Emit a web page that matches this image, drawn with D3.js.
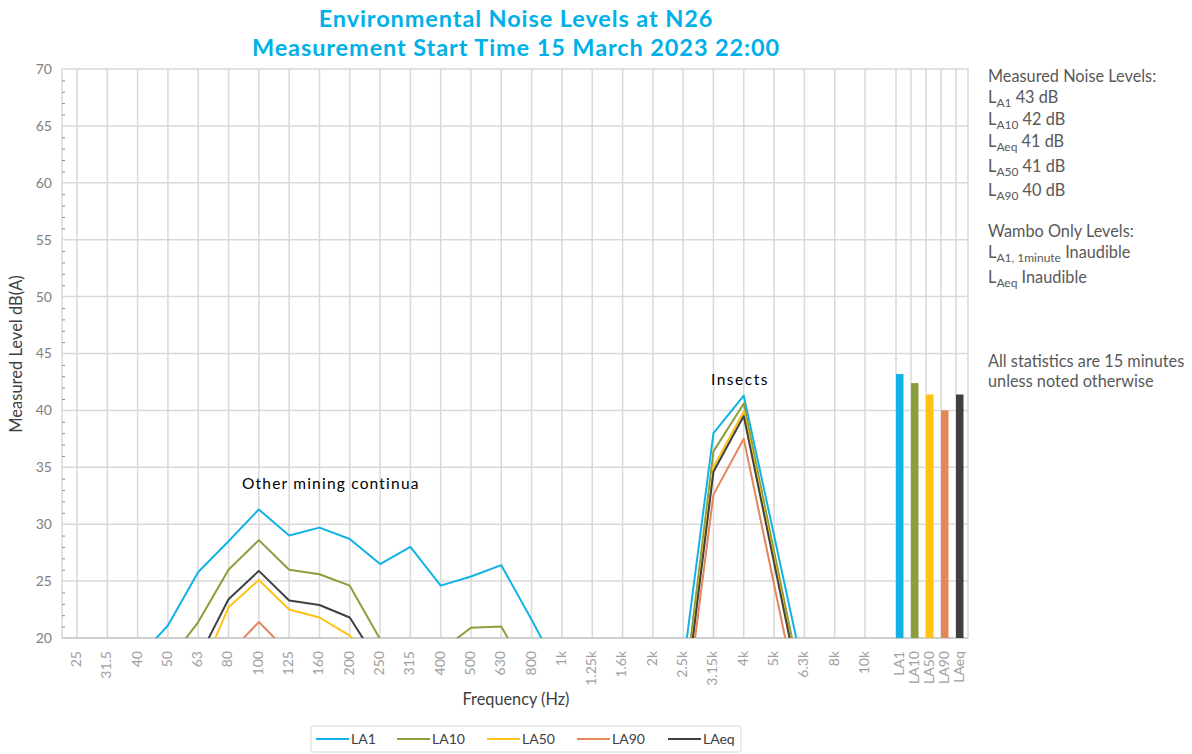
<!DOCTYPE html>
<html>
<head>
<meta charset="utf-8">
<script src="https://cdn.jsdelivr.net/npm/d3@7"></script>
<style>
  body { margin: 0; background: #fff; }
  text { font-family: Lato, "Open Sans", sans-serif; }
</style>
</head>
<body>
<div id="chart"></div>
<script>
// frequency bands (Hz) along the x axis
var freqs = ["25", "31.5", "40", "50", "63", "80", "100", "125", "160", "200", "250", "315", "400",
  "500", "630", "800", "1k", "1.25k", "1.6k", "2k", "2.5k", "3.15k", "4k", "5k", "6.3k", "8k", "10k"];

// third-octave levels per statistic, dB(A) (values under 20 are off the chart)
var la1 = [15.0, 16.0, 18.2, 21.1, 25.8, 28.5, 31.3, 29.0, 29.7, 28.7, 26.5, 28.0, 24.6,
  25.4, 26.4, 21.6, 16.6, 15.5, 15.0, 15.5, 17.5, 38.0, 41.3, 29.0, 16.7, 14.0, 13.0];
var la10 = [14.0, 15.0, 16.5, 17.9, 21.4, 26.0, 28.6, 26.0, 25.6, 24.6, 19.9, 17.5, 18.9,
  20.9, 21.0, 16.3, 14.5, 13.5, 13.0, 13.5, 14.4, 36.4, 40.6, 27.6, 14.7, 12.5, 11.5];
var la50 = [12.0, 13.0, 14.0, 15.0, 16.5, 22.7, 25.1, 22.5, 21.8, 20.2, 17.5, 16.0, 15.5,
  16.5, 16.5, 14.0, 12.5, 12.0, 11.5, 12.0, 13.3, 35.0, 39.9, 26.9, 13.8, 11.0, 10.0];
var la90 = [11.0, 12.0, 13.0, 14.0, 15.5, 18.6, 21.4, 18.7, 17.5, 16.5, 15.0, 14.5, 14.0,
  14.5, 14.5, 13.0, 12.0, 11.5, 11.0, 11.5, 11.8, 32.6, 37.5, 24.7, 11.9, 10.0, 9.0];
var laeq = [13.0, 14.0, 15.0, 16.5, 18.2, 23.4, 25.9, 23.3, 22.9, 21.8, 17.6, 17.0, 16.5,
  17.5, 17.5, 15.0, 13.5, 13.0, 12.5, 13.0, 13.1, 34.6, 39.5, 26.6, 13.7, 11.5, 10.5];

// overall statistics shown as bars at the right end of the axis
var statNames = ["LA1", "LA10", "LA50", "LA90", "LAeq"];
var statValues = [43.2, 42.4, 41.4, 40.0, 41.4];

var yTicks = [20, 25, 30, 35, 40, 45, 50, 55, 60, 65, 70];

var colors = {
  LA1: "#12b2e6", LA10: "#8a9e3c", LA50: "#ffc114", LA90: "#e3865a", LAeq: "#404040"
};

var series = [
  { name: "LA1", values: la1 },
  { name: "LA10", values: la10 },
  { name: "LA50", values: la50 },
  { name: "LA90", values: la90 },
  { name: "LAeq", values: laeq }
];

var svgWidth = 1192, svgHeight = 754;
var plot = { left: 62, top: 69, right: 968, bottom: 638 };

var svg = d3.select("#chart").append("svg")
  .attr("width", svgWidth)
  .attr("height", svgHeight);

var x = d3.scalePoint().domain(freqs).range([77, 865]);
var xs = d3.scalePoint().domain(statNames).range([896, 956]);
var y = d3.scaleLinear().domain([20, 70]).range([plot.bottom, plot.top]);

var grid = "#d9d9d9";

// gridlines
var gridG = svg.append("g");
gridG.selectAll("line.h")
  .data(yTicks.slice(1, -1))
  .enter().append("line")
  .attr("x1", plot.left).attr("x2", plot.right)
  .attr("y1", d => y(d)).attr("y2", d => y(d))
  .attr("stroke", grid).attr("stroke-width", 1.5);

gridG.selectAll("line.vf")
  .data(freqs)
  .enter().append("line")
  .attr("x1", d => x(d)).attr("x2", d => x(d))
  .attr("y1", plot.top).attr("y2", plot.bottom)
  .attr("stroke", grid).attr("stroke-width", 1.5);

gridG.selectAll("line.vs")
  .data(statNames)
  .enter().append("line")
  .attr("x1", d => xs(d)).attr("x2", d => xs(d))
  .attr("y1", plot.top).attr("y2", plot.bottom)
  .attr("stroke", grid).attr("stroke-width", 1.5);

// plot frame
svg.append("rect")
  .attr("x", plot.left).attr("y", plot.top)
  .attr("width", plot.right - plot.left).attr("height", plot.bottom - plot.top)
  .attr("fill", "none").attr("stroke", grid).attr("stroke-width", 1.5);

// minor ticks on the y axis (inside)
var minor = d3.range(21, 70).filter(d => d % 5 !== 0);
svg.append("g")
  .attr("transform", "translate(" + plot.left + ",0)")
  .call(d3.axisLeft(y).tickValues(minor).tickSize(-3).tickFormat(""))
  .call(g => g.select(".domain").remove())
  .selectAll("line").attr("stroke", "#8c8c8c");

// y tick labels
svg.append("g")
  .selectAll("text")
  .data(yTicks)
  .enter().append("text")
  .attr("x", 52)
  .attr("y", d => y(d))
  .attr("dy", "0.35em")
  .attr("text-anchor", "end")
  .attr("font-size", 14)
  .attr("fill", "#808080")
  .text(d => d);

// x tick labels (rotated)
var xlab = svg.append("g");
xlab.selectAll("text.f")
  .data(freqs)
  .enter().append("text")
  .attr("transform", d => "translate(" + (x(d) - 1) + ",651) rotate(-90)")
  .attr("dy", "0.35em")
  .attr("text-anchor", "end")
  .attr("font-size", 14)
  .attr("fill", "#a0a0a0")
  .text(d => d);

xlab.selectAll("text.s")
  .data(statNames)
  .enter().append("text")
  .attr("transform", d => "translate(" + (xs(d) + 3) + ",651) rotate(-90)")
  .attr("dy", "0.35em")
  .attr("text-anchor", "end")
  .attr("font-size", 14)
  .attr("fill", "#a0a0a0")
  .text(d => d);

// bottom axis line
svg.append("line")
  .attr("x1", plot.left).attr("x2", plot.right)
  .attr("y1", plot.bottom).attr("y2", plot.bottom)
  .attr("stroke", "#c8c8c8").attr("stroke-width", 1.5);

// bars of the overall statistics
svg.append("g")
  .selectAll("rect")
  .data(statNames.map((s, i) => ({ name: s, value: statValues[i] })))
  .enter().append("rect")
  .attr("x", d => xs(d.name))
  .attr("y", d => y(d.value))
  .attr("width", 7.5)
  .attr("height", d => y(20) - y(d.value))
  .attr("fill", d => colors[d.name]);

// spectrum lines, clipped to the plot area
svg.append("clipPath").attr("id", "clip")
  .append("rect")
  .attr("x", plot.left).attr("y", plot.top)
  .attr("width", plot.right - plot.left).attr("height", plot.bottom - plot.top);

var line = d3.line()
  .x((d, i) => x(freqs[i]))
  .y(d => y(d));

svg.append("g")
  .attr("clip-path", "url(#clip)")
  .selectAll("path")
  .data(series)
  .enter().append("path")
  .attr("d", d => line(d.values))
  .attr("fill", "none")
  .attr("stroke", d => colors[d.name])
  .attr("stroke-width", 2)
  .attr("stroke-linejoin", "round");

// annotations
svg.append("text")
  .attr("x", 242).attr("y", 489)
  .attr("font-size", 15.5)
  .attr("letter-spacing", 1.2)
  .attr("fill", "#000")
  .text("Other mining continua");

svg.append("text")
  .attr("x", 711).attr("y", 385)
  .attr("font-size", 15.5)
  .attr("letter-spacing", 1.5)
  .attr("fill", "#000")
  .text("Insects");

// title, two separate lines
svg.append("g")
  .attr("font-size", 23.5)
  .attr("font-weight", "bold")
  .attr("letter-spacing", 0.9)
  .attr("fill", "#00b0e8")
  .selectAll("text")
  .data(["Environmental Noise Levels at N26", "Measurement Start Time 15 March 2023 22:00"])
  .enter().append("text")
  .attr("x", 516)
  .attr("y", (d, i) => 27 + i * 29)
  .attr("text-anchor", "middle")
  .text(d => d);

// axis titles
svg.append("text")
  .attr("transform", "translate(22,354) rotate(-90)")
  .attr("text-anchor", "middle")
  .attr("font-size", 16.5)
  .attr("fill", "#404040")
  .text("Measured Level dB(A)");

svg.append("text")
  .attr("x", 516).attr("y", 705)
  .attr("text-anchor", "middle")
  .attr("font-size", 16.3)
  .attr("fill", "#404040")
  .text("Frequency (Hz)");

// side notes
var notes = svg.append("g").attr("font-size", 16.3).attr("fill", "#595959");

function plain(t, yy) {
  notes.append("text").attr("x", 988).attr("y", yy).text(t);
}
function level(sub, rest, yy) {
  var t = notes.append("text").attr("x", 988).attr("y", yy);
  t.append("tspan").text("L");
  t.append("tspan").attr("font-size", 12).attr("dy", 4).text(sub);
  t.append("tspan").attr("dy", -4).text(" " + rest);
}

plain("Measured Noise Levels:", 82);
level("A1", "43 dB", 103);
level("A10", "42 dB", 125);
level("Aeq", "41 dB", 147);
level("A50", "41 dB", 172);
level("A90", "40 dB", 196);
plain("Wambo Only Levels:", 237);
level("A1, 1minute", "Inaudible", 258);
level("Aeq", "Inaudible", 283);
plain("All statistics are 15 minutes", 367);
plain("unless noted otherwise", 387);

// legend
var legend = svg.append("g");
legend.append("rect")
  .attr("x", 311).attr("y", 726)
  .attr("width", 430).attr("height", 26)
  .attr("rx", 2)
  .attr("fill", "#fff").attr("stroke", "#d9d9d9");

var legendX = [316, 397, 487, 577, 668];
series.forEach(function (s, i) {
  var g = legend.append("g").attr("transform", "translate(" + legendX[i] + ",739)");
  g.append("line").attr("x1", 0).attr("x2", 33)
    .attr("stroke", colors[s.name]).attr("stroke-width", 2);
  g.append("text").attr("x", 35).attr("dy", "0.35em")
    .attr("font-size", 14).attr("fill", "#404040")
    .text(s.name);
});
</script>
</body>
</html>
